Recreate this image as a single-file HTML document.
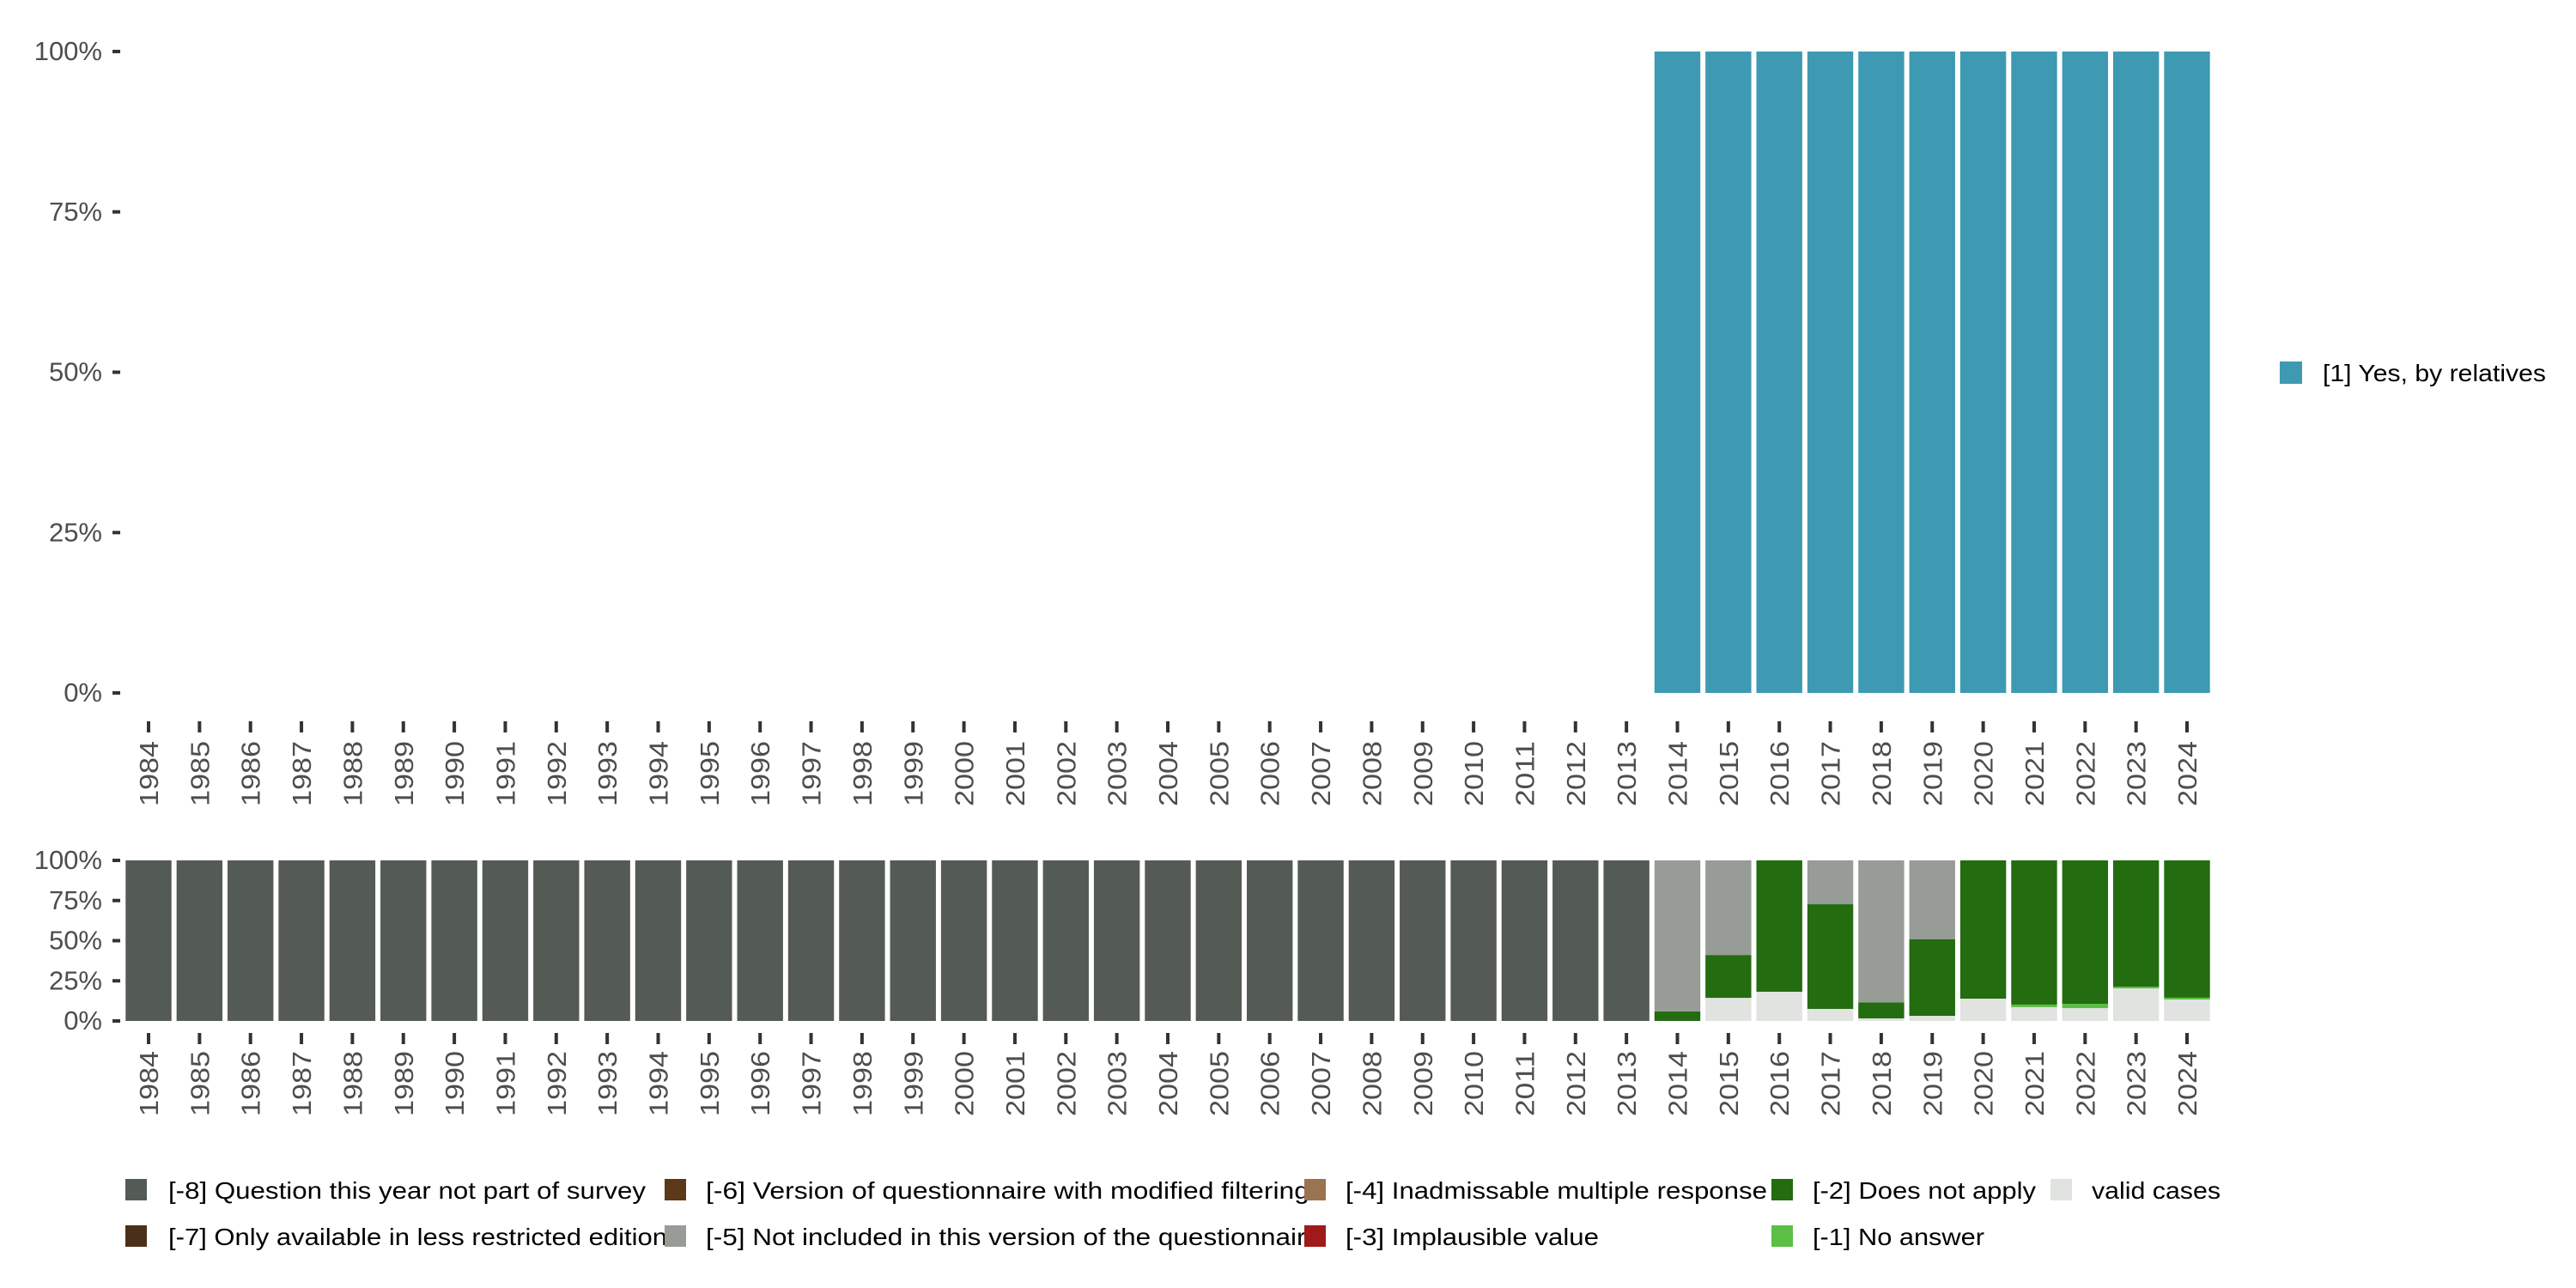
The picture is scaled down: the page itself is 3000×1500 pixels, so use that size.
<!DOCTYPE html>
<html><head><meta charset="utf-8"><style>
body{margin:0;background:#fff}
svg{display:block;font-family:"Liberation Sans",sans-serif}
</style></head><body>
<svg id="chart" width="3000" height="1500" viewBox="0 0 3000 1500" xmlns="http://www.w3.org/2000/svg">
<g id="top"></g>
<g id="bottom"></g>
<g id="legend-top"></g>
<g id="legend-bottom"></g>
</svg>
<script>
const years = [];
for (let y = 1984; y <= 2024; y++) years.push(y);
const yTicks = [0, 0.25, 0.5, 0.75, 1];
const yTickLabels = ["0%", "25%", "50%", "75%", "100%"];
// top panel: share "[1] Yes, by relatives"
const topYes = [0,0,0,0,0,0,0,0,0,0,0,0,0,0,0,0,0,0,0,0,0,0,0,0,0,0,0,0,0,0, 1,1,1,1,1,1,1,1,1,1,1];
// bottom panel stacked shares (bottom to top)
const valid = [0,0,0,0,0,0,0,0,0,0,0,0,0,0,0,0,0,0,0,0,0,0,0,0,0,0,0,0,0,0, 0,0.144,0.182,0.075,0.016,0.032,0.139,0.086,0.08,0.203,0.134];
const noAnswer = [0,0,0,0,0,0,0,0,0,0,0,0,0,0,0,0,0,0,0,0,0,0,0,0,0,0,0,0,0,0, 0,0,0,0,0,0,0,0.016,0.027,0.011,0.011];
const doesNotApply = [0,0,0,0,0,0,0,0,0,0,0,0,0,0,0,0,0,0,0,0,0,0,0,0,0,0,0,0,0,0, 0.06,0.267,0.818,0.652,0.10,0.476,0.861,0.898,0.893,0.786,0.855];
const notIncluded = [0,0,0,0,0,0,0,0,0,0,0,0,0,0,0,0,0,0,0,0,0,0,0,0,0,0,0,0,0,0, 0.94,0.589,0,0.273,0.884,0.492,0,0,0,0,0];
const notPart = [1,1,1,1,1,1,1,1,1,1,1,1,1,1,1,1,1,1,1,1,1,1,1,1,1,1,1,1,1,1, 0,0,0,0,0,0,0,0,0,0,0];

const NS = "http://www.w3.org/2000/svg";
function mk(tag, attrs, parent){const e=document.createElementNS(NS,tag);for(const k in attrs)e.setAttribute(k,attrs[k]);parent.appendChild(e);return e;}
const step = 59.35, c0 = 173, bw = step*0.9;
const xc = i => c0 + i*step;
function yScale(y0, y1){return v => y0 + (y1-y0)*v;}
const yTop = yScale(807, 60);
const yBot = yScale(1189, 1002);

function axes(g, ys, tickY, labY, name){
  yTicks.forEach((t,i)=>{
    const y = ys(t);
    const l = mk("line",{x1:131,x2:140,y1:y,y2:y,stroke:"#333","stroke-width":4},g);
    
    
    const tx = mk("text",{x:119,y:y+10,"text-anchor":"end","font-size":31,fill:"#4d4d4d"},g);
    tx.textContent = yTickLabels[i];
    
    
  });
  years.forEach((yr,i)=>{
    const x = xc(i);
    const l = mk("line",{x1:x,x2:x,y1:tickY,y2:tickY+13,stroke:"#333","stroke-width":4},g);
    
    
    const tx = mk("text",{x:0,y:0,"text-anchor":"end","font-size":31,fill:"#4d4d4d",textLength:76,lengthAdjust:"spacingAndGlyphs",transform:`translate(${x+11},${labY}) rotate(-90)`},g);
    tx.textContent = yr;
    
    
  });
}
function bar(g, i, v0, v1, ys, color, name){
  if (v1 - v0 <= 0) return;
  const r = mk("rect",{x:xc(i)-bw/2,y:ys(v1),width:bw,height:ys(v0)-ys(v1),fill:color},g);
  
  
}
const gt = document.getElementById("top"), gb = document.getElementById("bottom");
years.forEach((yr,i)=>{ bar(gt,i,0,topYes[i],yTop,"#3d9ab2","bar-yes-"+yr); });
const stacks = [[valid,"#e0e3df","valid"],[noAnswer,"#5bbf45","no-answer"],[doesNotApply,"#236c0f","does-not-apply"],[notIncluded,"#989c96","not-included"],[notPart,"#545b55","not-part"]];
years.forEach((yr,i)=>{
  let acc = 0;
  stacks.forEach(([arr,col,nm])=>{ bar(gb,i,acc,acc+arr[i],yBot,col,"bar-"+nm+"-"+yr); acc += arr[i]; });
});
axes(gt, yTop, 840, 863, "top");
axes(gb, yBot, 1203, 1224, "bottom");

// legends
const lt = document.getElementById("legend-top");
let r = mk("rect",{x:2655,y:421,width:26,height:26,fill:"#3d9ab2"},lt);


let t = mk("text",{x:2705,y:444,"font-size":28,fill:"#000",textLength:260,lengthAdjust:"spacingAndGlyphs"},lt);
t.textContent = "[1] Yes, by relatives";



const legItems = [
 [146,196,1373,"#545b55","[-8] Question this year not part of survey",556],
 [146,196,1427,"#4a3018","[-7] Only available in less restricted edition",581],
 [774,822,1373,"#5a3818","[-6] Version of questionnaire with modified filtering",703],
 [774,822,1427,"#989c96","[-5] Not included in this version of the questionnaire",716],
 [1519,1567,1373,"#9a7350","[-4] Inadmissable multiple response",491],
 [1519,1567,1427,"#a01a1a","[-3] Implausible value",295],
 [2063,2111,1373,"#236c0f","[-2] Does not apply",260],
 [2063,2111,1427,"#5bbf45","[-1] No answer",200],
 [2388,2436,1373,"#e0e3df","valid cases",150]
];
const lb = document.getElementById("legend-bottom");
legItems.forEach(([sx,tx,y,col,label,w])=>{
  const rr = mk("rect",{x:sx,y:y,width:25,height:25,fill:col},lb);
  
  
  const tt = mk("text",{x:tx,y:y+23,"font-size":28,fill:"#000",textLength:w,lengthAdjust:"spacingAndGlyphs"},lb);
  tt.textContent = label;
  
  
});
</script>
</body></html>
